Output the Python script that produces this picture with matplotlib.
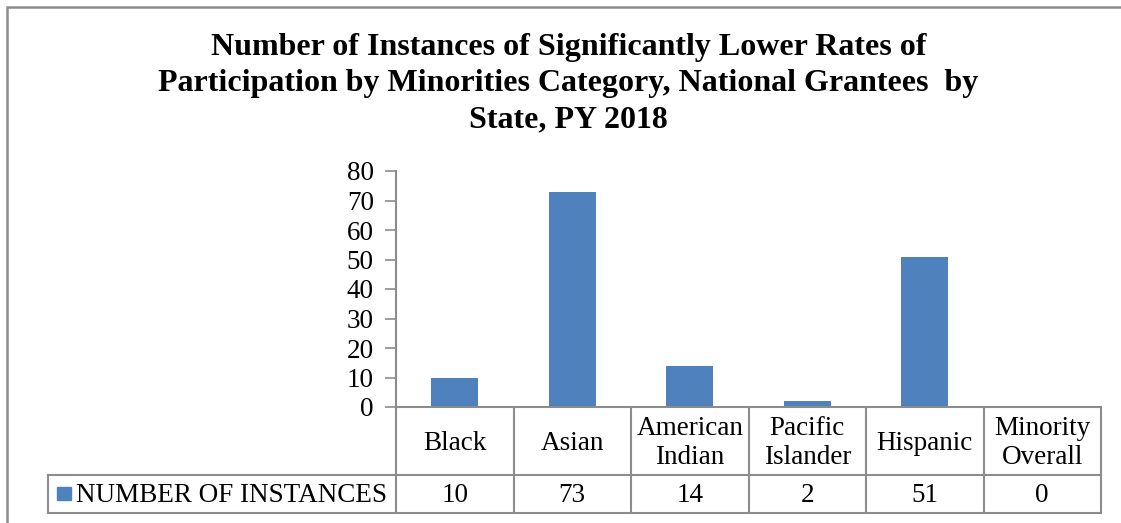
import matplotlib
matplotlib.use("Agg")
import matplotlib.pyplot as plt
from matplotlib.patches import Rectangle
from matplotlib.lines import Line2D

plt.rcParams["font.family"] = ["Liberation Serif", "DejaVu Serif"]

categories = ["Black", "Asian", "American\nIndian", "Pacific\nIslander", "Hispanic", "Minority\nOverall"]
instances = [10, 73, 14, 2, 51, 0]
series_name = "NUMBER OF INSTANCES"
title = ("Number of Instances of Significantly Lower Rates of\n"
         "Participation by Minorities Category, National Grantees  by\n"
         "State, PY 2018")

BAR_COLOR = "#4F81BD"
GRID_COLOR = "#8C8C8C"
W, H = 1121, 523
FS = 19.5


def fx(px):
    return px / W


def fy(py):
    return 1 - py / H


fig = plt.figure(figsize=(W / 100, H / 100), dpi=100)

# outer chart border (runs off the right/bottom of the crop)
fig.patches.append(Rectangle((fx(7), -0.1), 1.2, fy(7) + 0.1, transform=fig.transFigure,
                             fill=False, edgecolor=GRID_COLOR, linewidth=1.8))

fig.text(0.507, fy(33), title, ha="center", va="top", fontsize=23,
         fontweight="bold", linespacing=1.32)

x_left, x_right = 396, 1101
y_top, y_axis = 171, 407
y_head, y_bot = 475, 513
leg_left = 48

ax = fig.add_axes([fx(x_left), fy(y_axis), fx(x_right - x_left), fy(y_top) - fy(y_axis)])
xs = list(range(len(categories)))
ax.bar(xs, instances, width=0.4, color=BAR_COLOR, zorder=2)
ax.set_xlim(-0.5, len(categories) - 0.5)
ax.set_ylim(0, 80)
ax.set_yticks(range(0, 81, 10))
ax.tick_params(axis="y", labelsize=FS, length=8, width=1.2, color=GRID_COLOR, pad=8)
ax.set_xticks([])
for s in ["top", "right"]:
    ax.spines[s].set_visible(False)
for s in ["left", "bottom"]:
    ax.spines[s].set_color(GRID_COLOR)
    ax.spines[s].set_linewidth(1.5)

# data table below the plot
lw = 1.5
col_w = (x_right - x_left) / len(categories)
bounds = [x_left + i * col_w for i in range(len(categories) + 1)]
for bx in bounds:
    fig.lines.append(Line2D([fx(bx), fx(bx)], [fy(y_axis), fy(y_bot)],
                            transform=fig.transFigure, color=GRID_COLOR, linewidth=lw))
for yy in (y_head, y_bot):
    fig.lines.append(Line2D([fx(leg_left), fx(x_right)], [fy(yy), fy(yy)],
                            transform=fig.transFigure, color=GRID_COLOR, linewidth=lw))
fig.lines.append(Line2D([fx(leg_left), fx(leg_left)], [fy(y_head), fy(y_bot)],
                        transform=fig.transFigure, color=GRID_COLOR, linewidth=lw))

for i, (cat, val) in enumerate(zip(categories, instances)):
    cx = fx(bounds[i] + col_w / 2)
    fig.text(cx, fy((y_axis + y_head) / 2 + 2), cat, ha="center", va="center",
             fontsize=FS, linespacing=1.2)
    fig.text(cx, fy((y_head + y_bot) / 2 + 1), str(val), ha="center", va="center", fontsize=FS)

# legend key + series name
fig.patches.append(Rectangle((fx(57), fy(500)), fx(14), fy(487) - fy(500),
                             transform=fig.transFigure, color=BAR_COLOR))
fig.text(fx(76), fy((y_head + y_bot) / 2 + 1), series_name, ha="left", va="center", fontsize=FS)

fig.savefig("out.png", dpi=100)
